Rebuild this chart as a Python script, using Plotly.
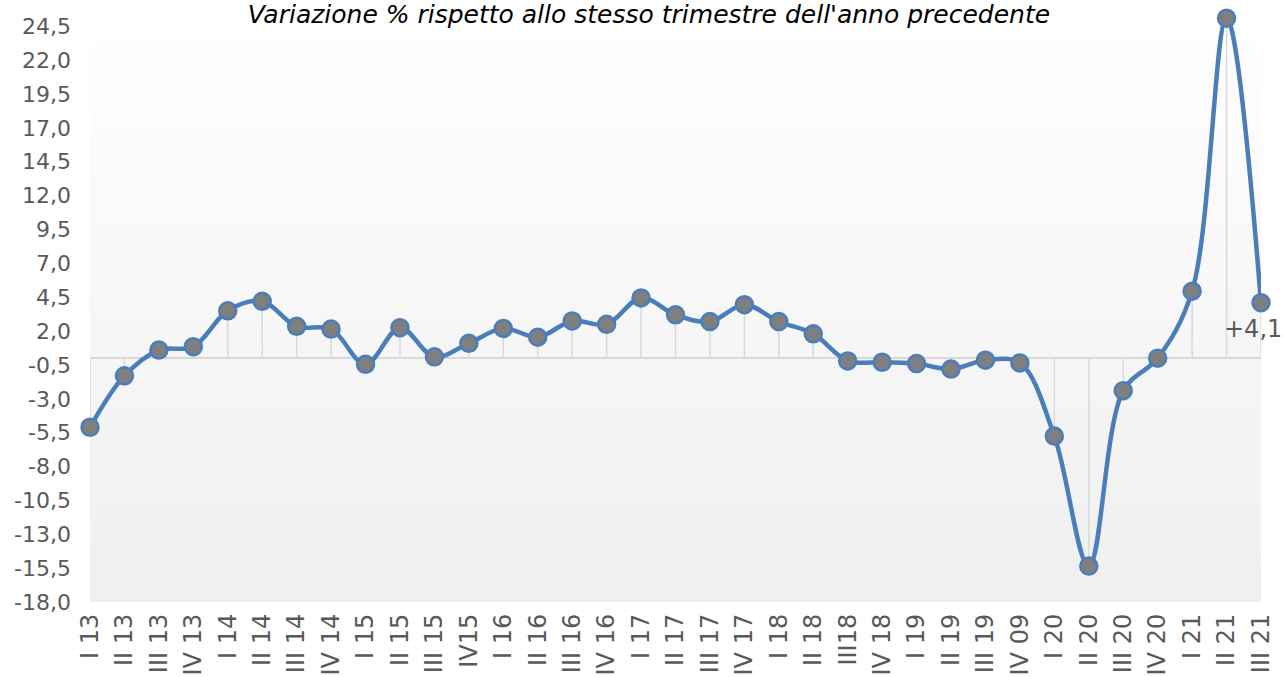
import base64
import plotly.graph_objects as go

# ---- data ----
quarters = ["I 13", "II 13", "III 13", "IV 13", "I 14", "II 14", "III 14", "IV 14",
            "I 15", "II 15", "III 15", "IV15", "I 16", "II 16", "III 16", "IV 16",
            "I 17", "II 17", "III 17", "IV 17", "I 18", "II 18", "III18", "IV 18",
            "I 19", "II 19", "III 19", "IV 09", "I 20", "II 20", "III 20", "IV 20",
            "I 21", "II 21", "III 21"]
values = [-5.1, -1.3, 0.6, 0.85, 3.5, 4.2, 2.35, 2.15,
          -0.45, 2.25, 0.1, 1.1, 2.2, 1.55, 2.75, 2.5,
          4.45, 3.2, 2.7, 3.95, 2.7, 1.8, -0.2, -0.3,
          -0.4, -0.8, -0.15, -0.35, -5.75, -15.35, -2.4, 0.0,
          4.95, 25.1, 4.1]
y_ticks = [-18.0 + 2.5 * k for k in range(18)]
y_tick_labels = [f"{v:.1f}".replace(".", ",") for v in y_ticks]
title_text = "Variazione % rispetto allo stesso trimestre dell'anno precedente"

idx = list(range(len(quarters)))

# drop lines from each point to the zero line
dx, dy = [], []
for i, v in zip(idx, values):
    dx += [i, i, None]
    dy += [0, v, None]

fig = go.Figure()
fig.add_trace(go.Scatter(x=dx, y=dy, mode="lines",
                         line=dict(color="#d9d9d9", width=1.5),
                         hoverinfo="skip", showlegend=False, cliponaxis=False))
fig.add_trace(go.Scatter(
    x=idx, y=values, mode="lines+markers",
    line=dict(color="#4a7ebb", width=4.5, shape="spline", smoothing=1.0),
    marker=dict(size=17, color="#7f7f7f", line=dict(color="#4a7ebb", width=2.5)),
    cliponaxis=False, showlegend=False,
))

last_label = "+" + f"{values[-1]:.1f}".replace(".", ",")
fig.add_annotation(x=idx[-1], y=values[-1], text=last_label, showarrow=False,
                   xshift=-8, yshift=-26, xanchor="center", yanchor="middle",
                   font=dict(family="DejaVu Sans", size=24, color="#595959"))

svg = ("<svg xmlns='http://www.w3.org/2000/svg' width='10' height='100' preserveAspectRatio='none'>"
       "<defs><linearGradient id='g' x1='0' y1='0' x2='0' y2='1'>"
       "<stop offset='0' stop-color='#ffffff'/><stop offset='1' stop-color='#efefef'/>"
       "</linearGradient></defs><rect width='10' height='100' fill='url(#g)'/></svg>")
uri = "data:image/svg+xml;base64," + base64.b64encode(svg.encode()).decode()

fig.update_layout(
    width=1284, height=677,
    margin=dict(l=90, r=23, t=6, b=75),
    paper_bgcolor="white", plot_bgcolor="rgba(0,0,0,0)",
    font=dict(family="DejaVu Sans", color="#595959"),
    images=[dict(source=uri, xref="paper", yref="paper", x=0, y=1, sizex=1, sizey=1,
                 xanchor="left", yanchor="top", sizing="stretch", layer="below")],
    title=dict(text=title_text, x=649 / 1284, xanchor="center", xref="container",
               y=1 - 14 / 677, yanchor="middle", yref="container", automargin=False,
               font=dict(family="DejaVu Sans", size=25, color="black", style="italic")),
    showlegend=False,
)
fig.update_xaxes(range=[0, len(quarters) - 1], tickvals=idx, ticktext=quarters,
                 tickangle=-90, showgrid=False, zeroline=False, showline=False,
                 ticks="", ticklabelstandoff=6, automargin=False,
                 tickfont=dict(family="DejaVu Sans", size=24, color="#595959"))
fig.update_yaxes(range=[-18, 26], tickvals=y_ticks, ticktext=y_tick_labels,
                 showgrid=False, zeroline=True, zerolinecolor="#d9d9d9", zerolinewidth=1.5,
                 showline=False, ticks="", ticklabelstandoff=18, automargin=False,
                 tickfont=dict(family="DejaVu Sans", size=22, color="#595959"))

fig.write_html("out.html", config={"displayModeBar": False},
               post_script="document.body.style.margin='0';document.body.style.overflow='hidden';")
